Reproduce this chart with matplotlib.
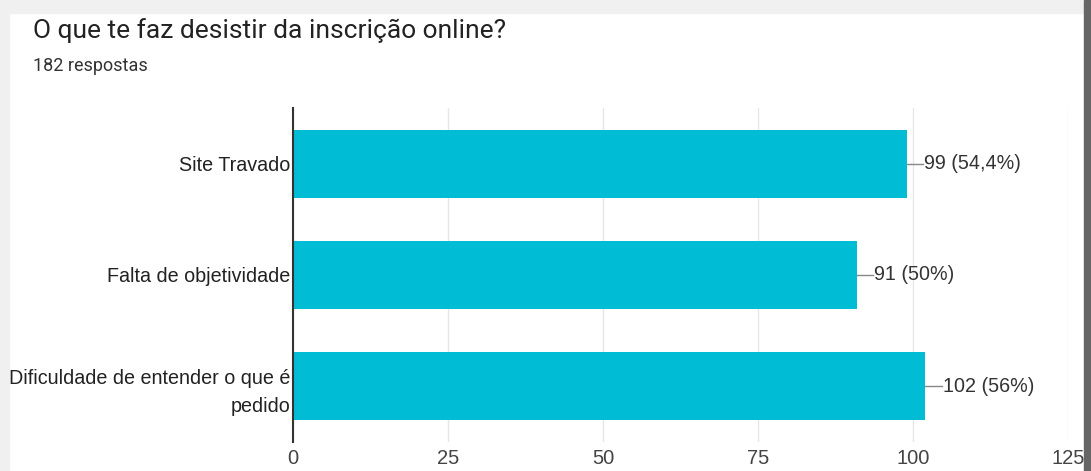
import matplotlib
matplotlib.use("Agg")
import matplotlib.pyplot as plt
from matplotlib.patches import Rectangle

title = "O que te faz desistir da inscrição online?"
subtitle = "182 respostas"
categories = ["Site Travado", "Falta de objetividade", "Dificuldade de entender o que é\npedido"]
values = [99, 91, 102]
value_labels = ["99 (54,4%)", "91 (50%)", "102 (56%)"]
xticks = [0, 25, 50, 75, 100, 125]

plt.rcParams['font.family'] = ['Liberation Sans', 'DejaVu Sans']

fig = plt.figure(figsize=(10.91, 4.71), dpi=100)
fig.patch.set_facecolor('white')

# card shadow edges
fig.patches.append(Rectangle((0, 0.972), 1, 0.028, transform=fig.transFigure, color='#f0f0f0', zorder=0))
fig.patches.append(Rectangle((0, 0), 0.008, 1, transform=fig.transFigure, color='#f0f0f0', zorder=0))
fig.patches.append(Rectangle((0.994, 0), 0.006, 1, transform=fig.transFigure, color='#666666', zorder=0))

ax = fig.add_axes([0.2686, 0.0616, 0.7104, 0.7091])
y = list(range(len(categories)))
ax.barh(y, values, height=0.61, color='#00bcd4', zorder=2)
ax.set_ylim(len(categories) - 0.5, -0.5)
ax.set_xlim(0, 125)
ax.set_xticks(xticks)
ax.set_xticklabels([str(t) for t in xticks], fontsize=14.5, color='#444444')
ax.set_yticks(y)
ax.set_yticklabels(categories, fontsize=14.2, color='#222222', linespacing=1.55)
ax.tick_params(axis='both', length=0)
ax.tick_params(axis='x', pad=5)
ax.tick_params(axis='y', pad=2)
ax.grid(axis='x', color='#e6e6e6', linewidth=1, zorder=0)
for s in ['top', 'right', 'bottom']:
    ax.spines[s].set_visible(False)
ax.spines['left'].set_color('#333333')
ax.spines['left'].set_linewidth(1.5)
ax.spines['left'].set_zorder(3)

for yi, v, lab in zip(y, values, value_labels):
    ax.plot([v, v + 2.6], [yi, yi], color='#888888', linewidth=1, zorder=3, clip_on=False)
    ax.text(v + 2.75, yi, lab, va='center', ha='left', fontsize=14.2, color='#333333')

fig.text(0.030, 0.935, title, fontsize=19, color='#222222', va='center', ha='left',
         family=['Roboto', 'DejaVu Sans'])
fig.text(0.030, 0.86, subtitle, fontsize=13, color='#333333', va='center', ha='left',
         family=['Roboto', 'DejaVu Sans'])

fig.savefig('out.png', dpi=100)
